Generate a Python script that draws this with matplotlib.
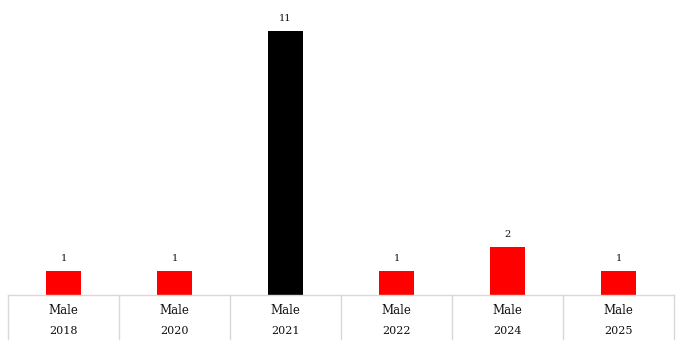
import matplotlib
matplotlib.use("Agg")
import matplotlib.pyplot as plt
import matplotlib.transforms as mtransforms

genders = ["Male", "Male", "Male", "Male", "Male", "Male"]
years = ["2018", "2020", "2021", "2022", "2024", "2025"]
counts = [1, 1, 11, 1, 2, 1]
colors = ["#FF0000", "#FF0000", "#000000", "#FF0000", "#FF0000", "#FF0000"]

plt.rcParams["font.family"] = ["DejaVu Serif"]

fig = plt.figure(figsize=(6.84, 3.46), dpi=100)
ax = fig.add_axes([8 / 684, 51 / 346, 666 / 684, 288 / 346])

x = list(range(len(counts)))
bars = ax.bar(x, counts, width=0.315, color=colors)

for xi, v in zip(x, counts):
    ax.annotate(str(v), (xi, v), xytext=(0, 6), textcoords="offset points",
                ha="center", va="bottom", fontsize=7, color="#111111")

ax.set_xlim(-0.5, len(counts) - 0.5)
ax.set_ylim(0, 12)
ax.set_xticks([])
ax.set_yticks([])
for s in ["top", "right", "left"]:
    ax.spines[s].set_visible(False)
ax.spines["bottom"].set_color("#d9d9d9")
ax.spines["bottom"].set_linewidth(1)

# category separators and two-level labels
trans = mtransforms.blended_transform_factory(ax.transData, ax.transAxes)
drop = 44 / 288
for b in range(len(counts) + 1):
    ax.plot([b - 0.5, b - 0.5], [0, -drop], transform=trans, color="#d9d9d9",
            lw=1, clip_on=False)
for xi, g, yr in zip(x, genders, years):
    ax.text(xi, -15 / 288, g, transform=trans, ha="center", va="center",
            fontsize=8.5, color="#111111")
    ax.text(xi, -36 / 288, yr, transform=trans, ha="center", va="center",
            fontsize=8, color="#111111")

fig.savefig("out.png", dpi=100)
